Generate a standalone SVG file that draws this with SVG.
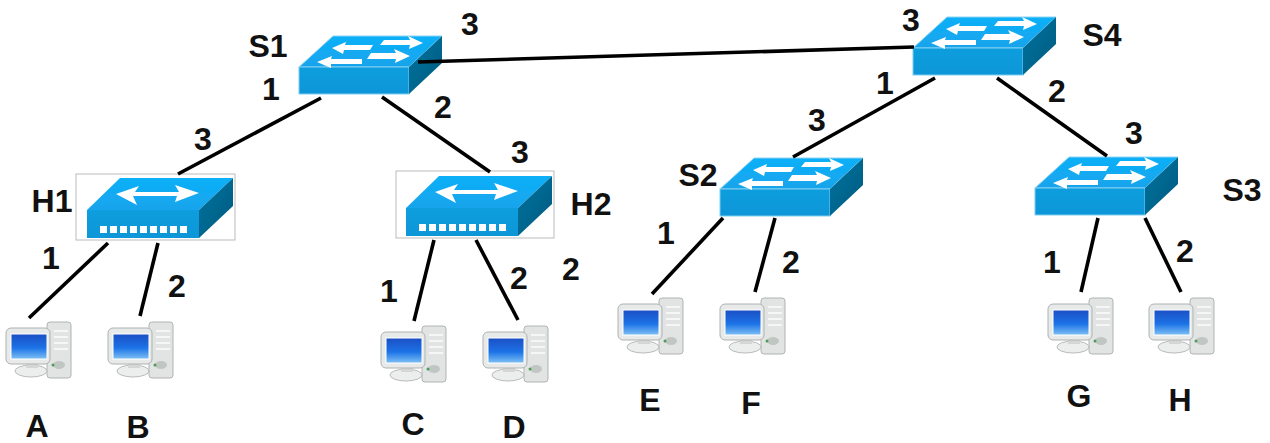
<svg xmlns="http://www.w3.org/2000/svg" width="1270" height="443" viewBox="0 0 1270 443">
<style>
text{font-family:"Liberation Sans",Arial,sans-serif;font-weight:700;font-size:32px;fill:#111;text-anchor:middle}
.l{stroke:#000;stroke-width:3.6;fill:none}
.ar{fill:#fff;stroke:none}
</style>
<defs>
<linearGradient id="scr" x1="0" y1="0" x2="0" y2="1"><stop offset="0" stop-color="#1a4fc4"/><stop offset=".55" stop-color="#1a72e6"/><stop offset="1" stop-color="#7fc0f4"/></linearGradient>
<linearGradient id="top" x1="0" y1="0" x2="0" y2="1"><stop offset="0" stop-color="#0cb0f8"/><stop offset="1" stop-color="#18a4ec"/></linearGradient>
<linearGradient id="front" x1="0" y1="0" x2="0" y2="1"><stop offset="0" stop-color="#0c9ede"/><stop offset="1" stop-color="#0a96d8"/></linearGradient>
<linearGradient id="side" x1="0" y1="0" x2="1" y2="1"><stop offset="0" stop-color="#00749f"/><stop offset="1" stop-color="#055a80"/></linearGradient>
<filter id="soft" x="-5%" y="-5%" width="110%" height="110%"><feGaussianBlur stdDeviation=".5"/></filter>
<g id="sw" filter="url(#soft)">
<polygon points="0,31 34,0 143,0 110,31" fill="url(#top)" stroke="#8fd4f4" stroke-width="1"/>
<rect x="0" y="31" width="110" height="27" fill="url(#front)" stroke="#7fcdf0" stroke-width="1"/>
<polygon points="110,31 143,0 143,27 110,58" fill="url(#side)"/>
<polygon class="ar" points="33,12 47,6 46,9 74,9 71,14 45,14 44,18"/>
<polygon class="ar" points="124,7 110,13 111,9 81,9 85,4 111,4 109,0"/>
<polygon class="ar" points="18,26 33,20 32,23 63,23 63,28 32,28 32,32"/>
<polygon class="ar" points="111,20 96,27 97,23 68,23 72,17 97,17 95,13"/>
</g>
<g id="hub" filter="url(#soft)">
<polygon points="0,32 33,0 146,0 112,32" fill="url(#top)"/>
<rect x="0" y="32" width="112" height="28" fill="url(#front)"/>
<polygon points="112,32 146,0 146,28 112,60" fill="url(#side)"/>
<polygon class="ar" points="29,16 52,8 48,14 92,14 88,7 112,15 88,24 90,18 46,18 50,27"/>
<g class="ar"><rect x="13" y="48" width="7" height="7"/><rect x="23" y="48" width="7" height="7"/><rect x="33" y="48" width="7" height="7"/><rect x="43" y="48" width="7" height="7"/><rect x="53" y="48" width="7" height="7"/><rect x="63" y="48" width="7" height="7"/><rect x="73" y="48" width="7" height="7"/><rect x="83" y="48" width="7" height="7"/><rect x="93" y="48" width="7" height="7"/></g>
</g>
<g id="pc" filter="url(#soft)">
<rect x="47" y="322" width="24" height="56" rx="3" fill="#e2e4e4" stroke="#b0b3b3"/>
<path d="M54 331h14M54 337h14M54 343h14M54 349h14" stroke="#f6f6f6" stroke-width="2"/>
<ellipse cx="59" cy="365" rx="6" ry="4" fill="#c0c6c2"/>
<circle cx="53" cy="365" r="1.5" fill="#4c9c58"/>
<ellipse cx="31" cy="371" rx="16" ry="6" fill="#eceeee" stroke="#b8baba"/>
<rect x="26" y="362" width="12" height="6" fill="#d4d6d6"/>
<rect x="6" y="328" width="44" height="36" rx="5" fill="#e8eaea" stroke="#aeb1b1"/>
<rect x="11" y="334" width="36" height="25" fill="url(#scr)" stroke="#fff"/>
</g>
</defs>
<g id="S1"><use href="#sw" x="299" y="36"/><text x="268" y="57">S1</text></g>
<g id="S4"><use href="#sw" x="913" y="17"/><text x="1102" y="46">S4</text></g>
<g id="S2"><use href="#sw" x="720" y="158"/><text x="698" y="186">S2</text></g>
<g id="S3"><use href="#sw" x="1035" y="157"/><text x="1242" y="201">S3</text></g>
<g id="H1"><rect x="76" y="174" width="159" height="66" fill="#fff" stroke="#bbb"/><use href="#hub" x="87" y="178"/><text x="52" y="212">H1</text></g>
<g id="H2"><rect x="396" y="171" width="158" height="67" fill="#fff" stroke="#bbb"/><use href="#hub" x="406" y="176"/><text x="591" y="215">H2</text></g>
<g id="A"><use href="#pc"/><text x="37" y="437">A</text></g>
<g id="B"><use href="#pc" x="102"/><text x="138" y="438">B</text></g>
<g id="C"><use href="#pc" x="375" y="4"/><text x="413" y="435">C</text></g>
<g id="D"><use href="#pc" x="477" y="4"/><text x="514" y="438">D</text></g>
<g id="E"><use href="#pc" x="612" y="-24"/><text x="650" y="411">E</text></g>
<g id="F"><use href="#pc" x="714" y="-24"/><text x="751" y="414">F</text></g>
<g id="G"><use href="#pc" x="1042" y="-24"/><text x="1079" y="407">G</text></g>
<g id="H"><use href="#pc" x="1143" y="-24"/><text x="1180" y="411">H</text></g>
<g id="connectors">
<line class="l" x1="418" y1="62" x2="914" y2="47"/>
<line class="l" x1="321" y1="98" x2="178" y2="174"/>
<line class="l" x1="382" y1="97" x2="490" y2="172"/>
<line class="l" x1="108" y1="243" x2="29" y2="318"/>
<line class="l" x1="158" y1="243" x2="140" y2="316"/>
<line class="l" x1="434" y1="240" x2="414" y2="321"/>
<line class="l" x1="476" y1="240" x2="518" y2="320"/>
<line class="l" x1="935" y1="78" x2="793" y2="157"/>
<line class="l" x1="997" y1="78" x2="1107" y2="156"/>
<line class="l" x1="723" y1="218" x2="652" y2="294"/>
<line class="l" x1="775" y1="218" x2="755" y2="292"/>
<line class="l" x1="1098" y1="218" x2="1081" y2="292"/>
<line class="l" x1="1145" y1="218" x2="1181" y2="292"/>
</g>
<g id="labels">
<text x="470" y="35">3</text><text x="271" y="100">1</text><text x="203" y="150">3</text><text x="443" y="118">2</text><text x="520" y="163">3</text>
<text x="51" y="269">1</text><text x="177" y="297">2</text><text x="389" y="302">1</text><text x="519" y="289">2</text><text x="571" y="280">2</text>
<text x="911" y="31">3</text><text x="885" y="94">1</text><text x="1057" y="102">2</text><text x="817" y="131">3</text><text x="1134" y="144">3</text>
<text x="666" y="244">1</text><text x="791" y="273">2</text><text x="1052" y="273">1</text><text x="1185" y="262">2</text>
</g>
</svg>
